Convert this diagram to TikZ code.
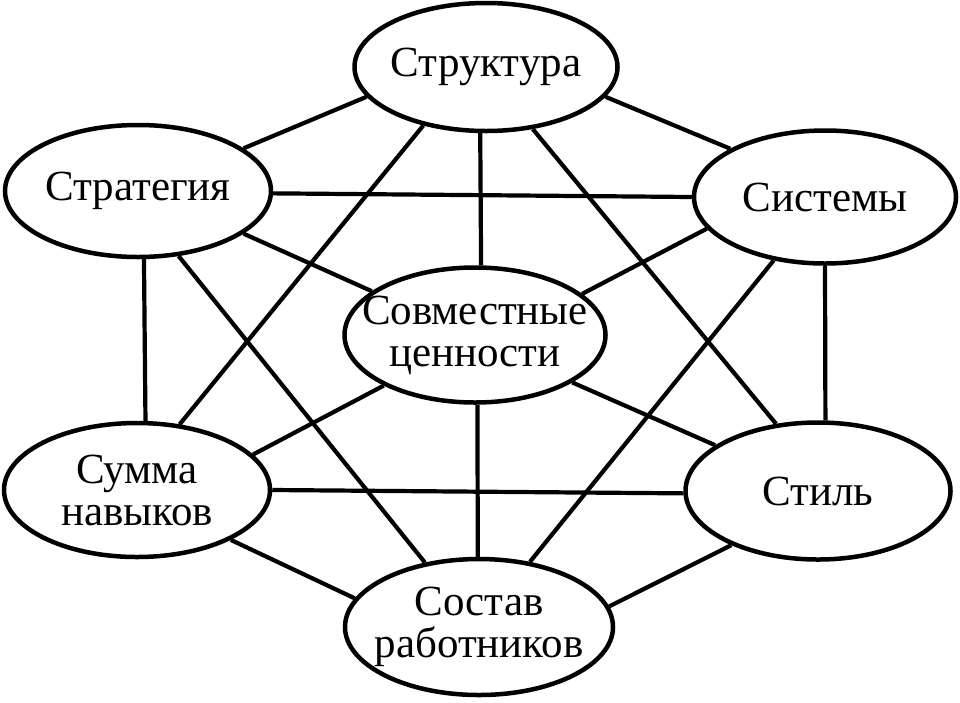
\documentclass[tikz,border=0pt]{standalone}
\usepackage{fontspec}
\setmainfont{Liberation Serif}
\usetikzlibrary{shapes.geometric}
\tikzset{
  oval/.style n args={3}{ellipse, draw=black, line width=4.5pt, fill=white,
    inner sep=0pt, minimum width=#1, minimum height=#2,
    label={[align=center, font=\fontsize{43}{42}\selectfont, inner sep=0pt]center:#3}},
  link/.style={draw=black, line width=4.2pt}
}
\begin{document}
\begin{tikzpicture}[x=1pt, y=-1pt]
\useasboundingbox (0,0) rectangle (960,702);
% nodes
\node[oval={263pt}{128pt}{Структура}] (S) at (486,67) {};
\node[oval={266pt}{132pt}{Стратегия}] (St) at (138,191) {};
\node[oval={262pt}{133pt}{Системы}] (Sy) at (825,197) {};
\node[oval={261pt}{135pt}{Совместные\\ценности}] (V) at (475,335) {};
\node[oval={266pt}{134pt}{Сумма\\навыков}] (N) at (137,490) {};
\node[oval={265pt}{137pt}{Стиль}] (Sl) at (818,491) {};
\node[oval={268pt}{136pt}{Состав\\работников}] (R) at (479,627) {};
% connectors
\draw[link] (S.194) -- (St.22.4);
\draw[link] (S.-14.3) -- (Sy.153.4);
\draw[link] (S.265.7) -- (V.85.1);
\draw[link] (S.223.6) -- (N.57.3);
\draw[link] (S.307.9) -- (Sl.122.3);
\draw[link] (St.-1.5) -- (Sy.180);
\draw[link] (St.-22.4) -- (V.157.4);
\draw[link] (St.275.9) -- (N.83.4);
\draw[link] (St.302.1) -- (R.130.8);
\draw[link] (Sy.195.6) -- (V.21.9);
\draw[link] (Sy.270) -- (Sl.84.3);
\draw[link] (Sy.231.3) -- (R.52.6);
\draw[link] (V.209.5) -- (N.17.2);
\draw[link] (V.334.4) -- (Sl.156);
\draw[link] (V.272) -- (R.91.6);
\draw[link] (N.-0.4) -- (Sl.181);
\draw[link] (N.332) -- (R.167.5);
\draw[link] (Sl.212.6) -- (R.9.3);
\end{tikzpicture}
\end{document}
